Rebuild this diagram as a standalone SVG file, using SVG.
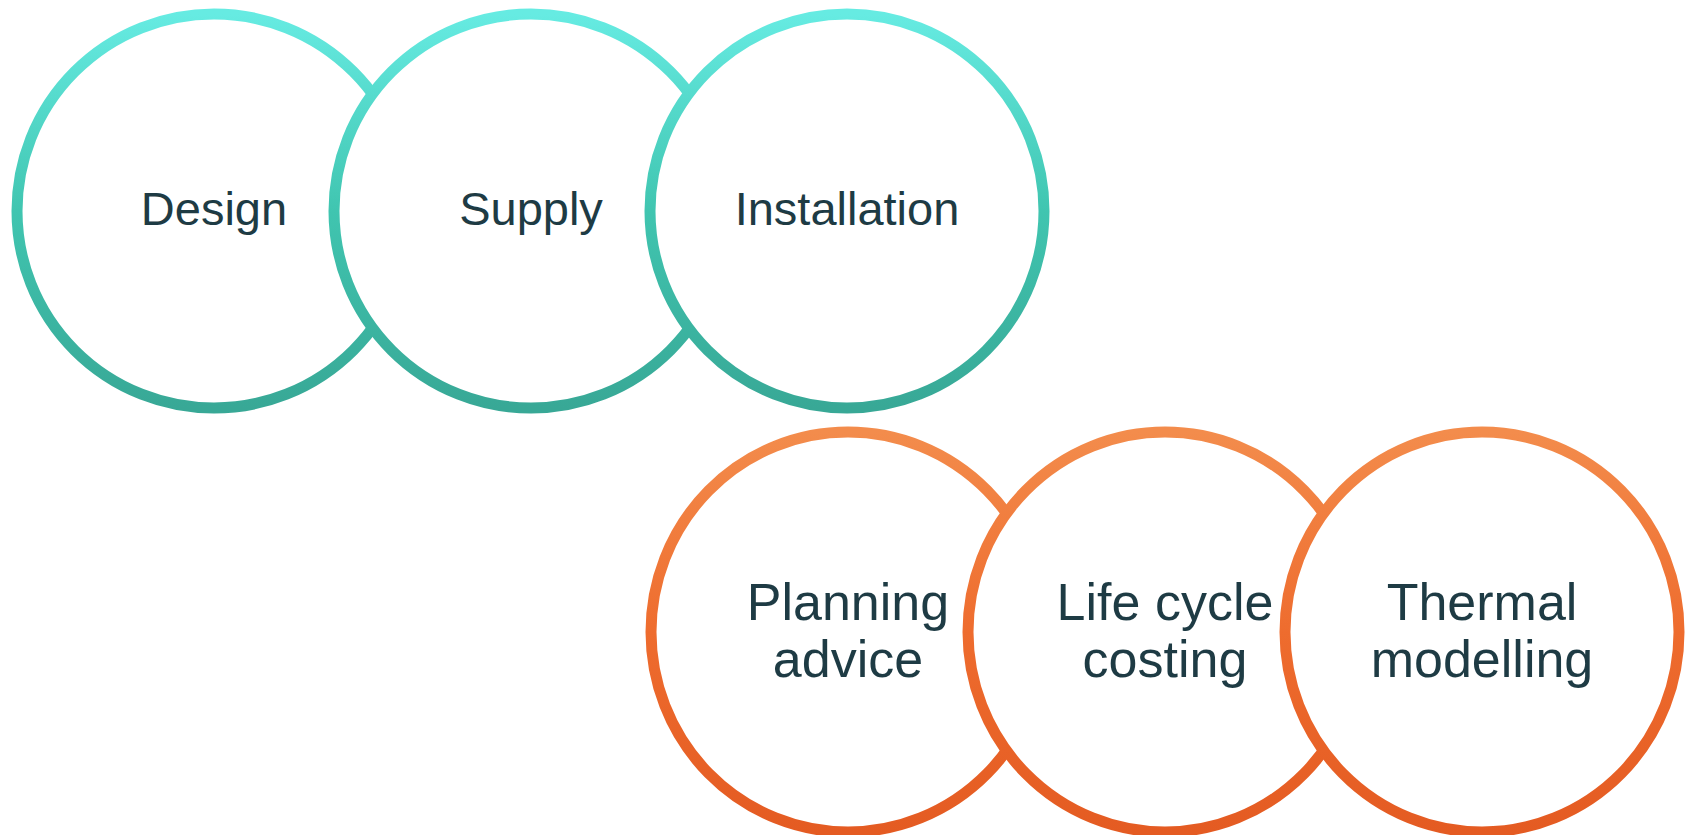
<svg xmlns="http://www.w3.org/2000/svg" width="1688" height="835" viewBox="0 0 1688 835">
<defs>
<linearGradient id="gTeal" x1="0" y1="0" x2="0" y2="1">
<stop offset="0" stop-color="#66ebe2"/>
<stop offset="0.5" stop-color="#40c5b0"/>
<stop offset="1" stop-color="#38a896"/>
</linearGradient>
<linearGradient id="gOrange" x1="0" y1="0" x2="0" y2="1">
<stop offset="0" stop-color="#f38c4c"/>
<stop offset="0.5" stop-color="#ee6c2e"/>
<stop offset="1" stop-color="#e45b22"/>
</linearGradient>
<style>
.teal{fill:#ffffff;stroke:url(#gTeal);stroke-width:11}
.orange{fill:#ffffff;stroke:url(#gOrange);stroke-width:11}
.t1{font-family:"Liberation Sans",Arial,sans-serif;font-size:47px;fill:#1e3b44;text-anchor:middle}
.t2{font-family:"Liberation Sans",Arial,sans-serif;font-size:52px;fill:#1e3b44;text-anchor:middle}
</style>
</defs>
<rect width="1688" height="835" fill="#ffffff"/>
<g id="connectors"></g>
<g id="design">
<circle class="teal" cx="214" cy="211" r="197"/>
<text class="t1" x="214" y="225">Design</text>
</g>
<g id="supply">
<circle class="teal" cx="531" cy="211" r="197"/>
<text class="t1" x="531" y="225">Supply</text>
</g>
<g id="installation">
<circle class="teal" cx="847" cy="211" r="197"/>
<text class="t1" x="847" y="225">Installation</text>
</g>
<g id="planning">
<ellipse class="orange" cx="848" cy="632" rx="197" ry="200"/>
<text class="t2" x="848" y="620">Planning</text>
<text class="t2" x="848" y="677">advice</text>
</g>
<g id="lifecycle">
<ellipse class="orange" cx="1165" cy="632" rx="197" ry="200"/>
<text class="t2" x="1165" y="620">Life cycle</text>
<text class="t2" x="1165" y="677">costing</text>
</g>
<g id="thermal">
<ellipse class="orange" cx="1482" cy="632" rx="197" ry="200"/>
<text class="t2" x="1482" y="620">Thermal</text>
<text class="t2" x="1482" y="677">modelling</text>
</g>
</svg>
